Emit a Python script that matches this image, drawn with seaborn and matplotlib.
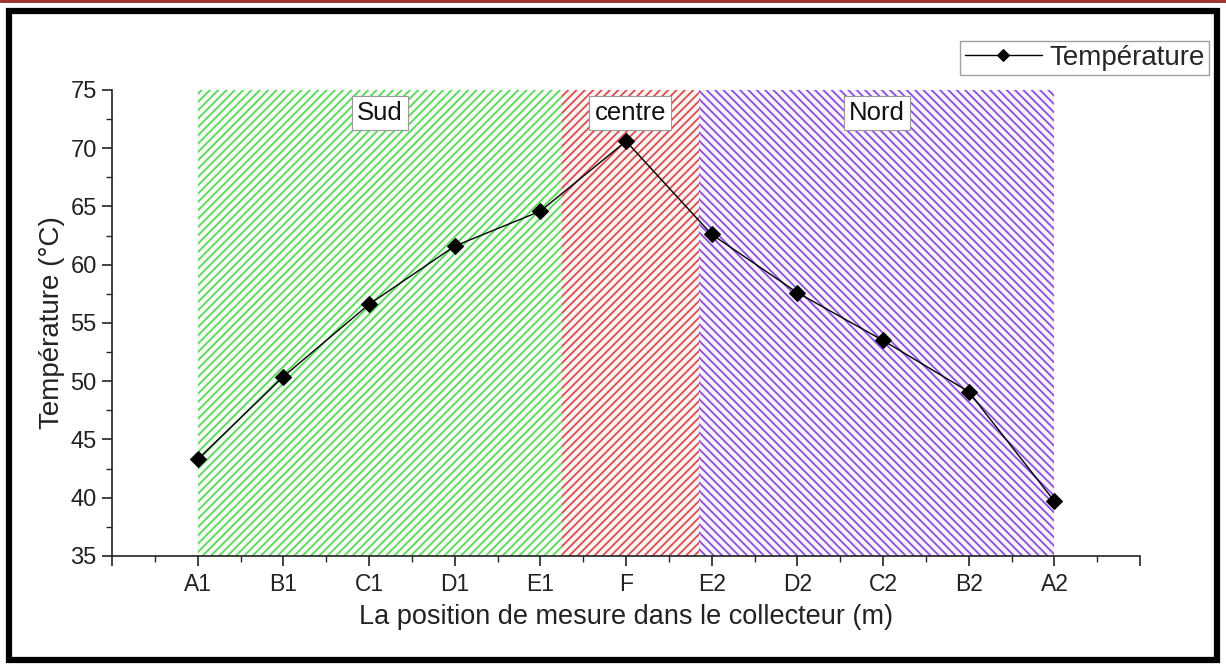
import matplotlib
matplotlib.use("Agg")
import matplotlib.pyplot as plt
import seaborn as sns
import pandas as pd
from matplotlib.patches import Rectangle
from matplotlib.ticker import MultipleLocator

positions = ["A1", "B1", "C1", "D1", "E1", "F", "E2", "D2", "C2", "B2", "A2"]
temperature = [43.3, 50.4, 56.6, 61.6, 64.6, 70.6, 62.6, 57.6, 53.5, 49.1, 39.7]

region_names = ["Sud", "centre", "Nord"]
region_starts = [0.0, 4.25, 5.85]
region_ends = [4.25, 5.85, 10.0]
region_colors = ["#5cd65c", "#d84e4e", "#8e4edc"]
region_faces = ["#f4fcf4", "#fdf4f4", "#f8f4fd"]
region_hatches = ["////", "////", "\\\\\\\\"]

sns.set_theme(style="ticks")
plt.rcParams["font.family"] = ["Liberation Sans", "DejaVu Sans"]
plt.rcParams["hatch.linewidth"] = 1.3

fig = plt.figure(figsize=(12.26, 6.66), dpi=100)
ax = fig.add_axes([0.0914, 0.1652, 0.8385, 0.6997])

for name, s, e, c, f, h in zip(region_names, region_starts, region_ends, region_colors, region_faces, region_hatches):
    ax.axvspan(s, e, facecolor=f, edgecolor=c, hatch=h, linewidth=0, zorder=0)
    ax.text((s + e) / 2, 73.0, name, ha="center", va="center", fontsize=18.5, color="#111111",
            bbox=dict(boxstyle="square,pad=0.2", facecolor="white", edgecolor="#999999", linewidth=0.8),
            zorder=3)

df = pd.DataFrame({"x": range(len(positions)), "Température": temperature})
sns.lineplot(data=df, x="x", y="Température", ax=ax, color="black", linewidth=1.0,
             marker="D", markersize=8, markeredgecolor="black", label="Température",
             legend=False, zorder=4)

ax.set_xlim(-1, 11)
ax.set_ylim(35, 75)
ax.set_xticks(range(-1, 12))
ax.set_xticklabels([""] + positions + [""])
ax.xaxis.set_minor_locator(MultipleLocator(0.5))
ax.yaxis.set_major_locator(MultipleLocator(5))
ax.yaxis.set_minor_locator(MultipleLocator(2.5))
ax.tick_params(axis="both", which="major", direction="out", length=7, width=1.2, colors="#222222")
ax.tick_params(axis="x", which="major", labelsize=16.5, pad=5)
ax.tick_params(axis="y", which="major", labelsize=17, pad=4)
ax.tick_params(axis="both", which="minor", direction="out", length=4, width=1.0)
ax.set_xlabel("La position de mesure dans le collecteur (m)", fontsize=19.5, color="#222222", labelpad=6)
ax.set_ylabel("Température (°C)", fontsize=20, color="#222222", labelpad=4)
for sp in ["top", "right"]:
    ax.spines[sp].set_visible(False)
for sp in ["left", "bottom"]:
    ax.spines[sp].set_color("#222222")
    ax.spines[sp].set_linewidth(1.2)
ax.set_facecolor("white")

handles, labels = ax.get_legend_handles_labels()
fig.legend(handles, labels, loc="upper right", bbox_to_anchor=(0.986, 0.939), fontsize=20,
           frameon=True, fancybox=False, edgecolor="#888888", handlelength=2.8, borderpad=0.15,
           handletextpad=0.25, borderaxespad=0.0, markerscale=0.8)

# figure frame
fig.add_artist(Rectangle((0, 1 - 3 / 666), 1, 3 / 666, transform=fig.transFigure,
                         facecolor="#a03535", edgecolor="none"))
fig.add_artist(Rectangle((9 / 1226, 6 / 666), 1208 / 1226, 649 / 666, transform=fig.transFigure,
                         facecolor="none", edgecolor="black", linewidth=4.5))

fig.savefig("out.png", dpi=100)
